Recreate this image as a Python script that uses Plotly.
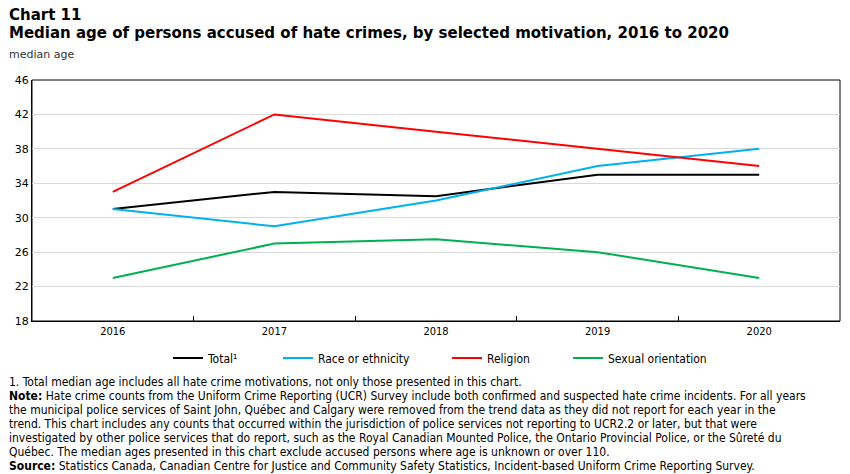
import plotly.graph_objects as go

years = ["2016", "2017", "2018", "2019", "2020"]
total = [31, 33, 32.5, 35, 35]
race = [31, 29, 32, 36, 38]
religion = [33, 42, 40, 38, 36]
sexual = [23, 27, 27.5, 26, 23]
y_ticks = [18, 22, 26, 30, 34, 38, 42, 46]

series = [
    ("Total¹", total, "#000000"),
    ("Race or ethnicity", race, "#00B0F0"),
    ("Religion", religion, "#FF0000"),
    ("Sexual orientation", sexual, "#00B050"),
]

W, H = 850, 474
ml, mr, mt, mb = 32, 10, 80, 153
pw = W - ml - mr
ph = H - mt - mb

legend_ids = ["legend", "legend2", "legend3", "legend4"]
legend_px = [173, 283, 452, 573]  # left pixel of each legend entry's line

fig = go.Figure()
for (name, vals, col), lid in zip(series, legend_ids):
    fig.add_trace(go.Scatter(x=years, y=vals, mode="lines", name=name, legend=lid,
                             line=dict(color=col, width=2)))

leg_common = dict(orientation="h", xanchor="left", yanchor="middle",
                  y=(H - mb - 358) / ph, bgcolor="rgba(0,0,0,0)",
                  font=dict(family="DejaVu Sans Condensed", size=12, color="#000"))
legend_layout = {}
for lid, lx in zip(legend_ids, legend_px):
    legend_layout[lid] = dict(leg_common, x=(lx - ml - 5) / pw)

fig.update_layout(
    width=W, height=H,
    margin=dict(l=ml, r=mr, t=mt, b=mb),
    paper_bgcolor="white", plot_bgcolor="white",
    font=dict(family="DejaVu Sans", size=11, color="#000"),
    showlegend=True,
    xaxis=dict(type="category", range=[-0.5, 4.5], showgrid=False,
               showline=True, linecolor="#000", linewidth=1, mirror=False,
               ticks="inside", tickson="boundaries", ticklen=5, tickcolor="#000",
               tickfont=dict(family="DejaVu Sans Condensed", size=11)),
    yaxis=dict(range=[18, 46], tickvals=y_ticks, showgrid=True, gridcolor="#D9D9D9",
               showline=True, linecolor="#000", linewidth=1, ticks="",
               zeroline=False, tickfont=dict(family="DejaVu Sans", size=11)),
    **legend_layout,
)

fig.add_shape(type="rect", xref="paper", yref="paper", x0=0, y0=0, x1=1, y1=1,
              line=dict(color="#000", width=1), layer="below")


def add_text(txt, ypx, size, family="DejaVu Sans", color="#000"):
    fig.add_annotation(text=txt, xref="paper", yref="paper",
                       x=(7 - ml) / pw, xanchor="left",
                       y=(H - mb - ypx) / ph, yanchor="middle",
                       showarrow=False, align="left",
                       font=dict(family=family, size=size, color=color))


add_text("<b>Chart 11</b>", 15, 15)
add_text("<b>Median age of persons accused of hate crimes, by selected motivation, 2016 to 2020</b>", 33, 15)
add_text("median age", 55, 11, color="#333")

notes = [
    "1. Total median age includes all hate crime motivations, not only those presented in this chart.",
    "<b>Note:</b> Hate crime counts from the Uniform Crime Reporting (UCR) Survey include both confirmed and suspected hate crime incidents. For all years",
    "the municipal police services of Saint John, Québec and Calgary were removed from the trend data as they did not report for each year in the",
    "trend. This chart includes any counts that occurred within the jurisdiction of police services not reporting to UCR2.2 or later, but that were",
    "investigated by other police services that do report, such as the Royal Canadian Mounted Police, the Ontario Provincial Police, or the Sûreté du",
    "Québec. The median ages presented in this chart exclude accused persons where age is unknown or over 110.",
    "<b>Source:</b> Statistics Canada, Canadian Centre for Justice and Community Safety Statistics, Incident-based Uniform Crime Reporting Survey.",
]
ys = [382, 396, 410, 424, 438, 452, 466]
for t, yy in zip(notes, ys):
    add_text(t, yy, 12, family="DejaVu Sans Condensed")

fig.write_html("out.html")
